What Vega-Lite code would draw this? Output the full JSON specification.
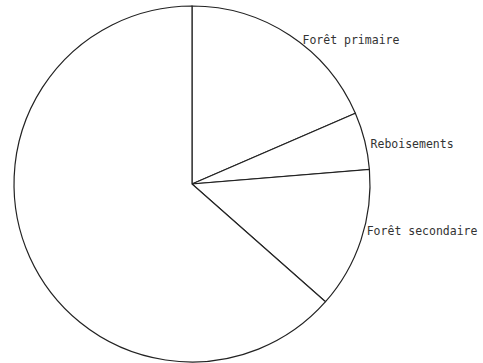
{
  "$schema": "https://vega.github.io/schema/vega-lite/v6.json",
  "width": 384,
  "height": 368,
  "padding": 0,
  "autosize": {"type": "pad"},
  "background": "white",
  "config": {"view": {"stroke": null}},
  "data": {
    "values": [
      {"categorie": "Forêt primaire", "part": 18.5, "ordre": 1, "etiquette": "Forêt primaire"},
      {"categorie": "Reboisements", "part": 5.2, "ordre": 2, "etiquette": "Reboisements"},
      {"categorie": "Forêt secondaire", "part": 12.8, "ordre": 3, "etiquette": "Forêt secondaire"},
      {"categorie": "Autres", "part": 63.5, "ordre": 4, "etiquette": ""}
    ]
  },
  "encoding": {
    "theta": {"field": "part", "type": "quantitative", "stack": true},
    "order": {"field": "ordre", "type": "quantitative"}
  },
  "layer": [
    {
      "mark": {"type": "arc", "radius": 178, "fill": "white", "stroke": "#222", "strokeWidth": 1.2}
    },
    {
      "mark": {"type": "text", "radius": 183, "align": "left", "baseline": "middle", "font": "DejaVu Sans Mono", "fontSize": 11.5, "fill": "#333", "dx": 10, "dy": 10},
      "encoding": {
        "text": {"field": "etiquette", "type": "nominal"},
        "opacity": {"condition": {"test": "datum.ordre == 1", "value": 1}, "value": 0}
      }
    },
    {
      "mark": {"type": "text", "radius": 183, "align": "left", "baseline": "middle", "font": "DejaVu Sans Mono", "fontSize": 11.5, "fill": "#333", "dx": 1, "dy": 5},
      "encoding": {
        "text": {"field": "etiquette", "type": "nominal"},
        "opacity": {"condition": {"test": "datum.ordre == 2", "value": 1}, "value": 0}
      }
    },
    {
      "mark": {"type": "text", "radius": 183, "align": "left", "baseline": "middle", "font": "DejaVu Sans Mono", "fontSize": 11.5, "fill": "#333", "dx": 1, "dy": -10},
      "encoding": {
        "text": {"field": "etiquette", "type": "nominal"},
        "opacity": {"condition": {"test": "datum.ordre == 3", "value": 1}, "value": 0}
      }
    }
  ]
}
